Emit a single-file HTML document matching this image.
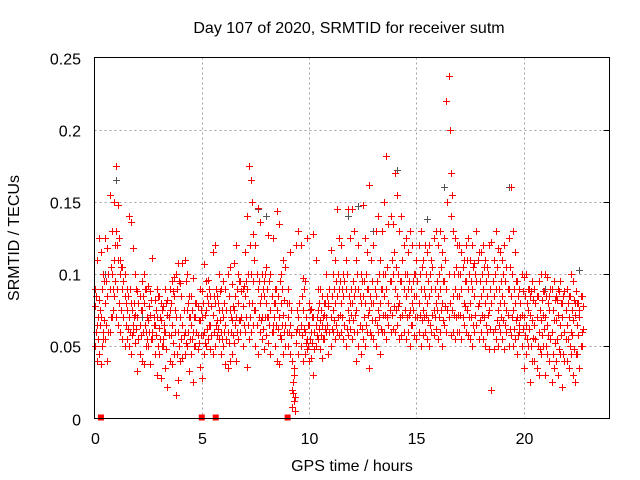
<!DOCTYPE html>
<html><head><meta charset="utf-8"><style>
html,body{margin:0;padding:0;background:#fff;}
svg{display:block;font-family:"Liberation Sans",sans-serif;}
</style></head><body>
<svg id="chart" width="640" height="480" viewBox="0 0 640 480" xmlns="http://www.w3.org/2000/svg">
<rect x="0" y="0" width="640" height="480" fill="#fff"/>
<text x="349" y="33" font-size="16" text-anchor="middle" fill="#000">Day 107 of 2020, SRMTID for receiver sutm</text>
<g id="grid"></g>
<g id="gray"></g>
<g id="red"></g>
<rect x="94.5" y="57.5" width="515" height="361" fill="none" stroke="#000" stroke-width="1"/>
<g id="ticks"></g>
<text x="352" y="471" font-size="16" text-anchor="middle" fill="#000">GPS time / hours</text>
<text transform="translate(19,238) rotate(-90)" font-size="16" text-anchor="middle" fill="#000">SRMTID / TECUs</text>
</svg>
<script>
const xTicks=[0,5,10,15,20];
const xTickLabels=["0","5","10","15","20"];
const yTicks=[0,0.05,0.1,0.15,0.2,0.25];
const yTickLabels=["0","0.05","0.1","0.15","0.2","0.25"];
const times=[0,0.1,0.2,0.3,0.4,0.5,0.6,0.7,0.8,0.9,1,1.1,1.2,1.3,1.4,1.5,1.6,1.7,1.8,1.9,2,2.1,2.2,2.3,2.4,2.5,2.6,2.7,2.8,2.9,3,3.1,3.2,3.3,3.4,3.5,3.6,3.7,3.8,3.9,4,4.1,4.2,4.3,4.4,4.5,4.6,4.7,4.8,4.9,5,5.1,5.2,5.3,5.4,5.5,5.6,5.7,5.8,5.9,6,6.1,6.2,6.3,6.4,6.5,6.6,6.7,6.8,6.9,7,7.1,7.2,7.3,7.4,7.5,7.6,7.7,7.8,7.9,8,8.1,8.2,8.3,8.4,8.5,8.6,8.7,8.8,8.9,9,9.1,9.2,9.3,9.4,9.5,9.6,9.7,9.8,9.9,10,10.1,10.2,10.3,10.4,10.5,10.6,10.7,10.8,10.9,11,11.1,11.2,11.3,11.4,11.5,11.6,11.7,11.8,11.9,12,12.1,12.2,12.3,12.4,12.5,12.6,12.7,12.8,12.9,13,13.1,13.2,13.3,13.4,13.5,13.6,13.7,13.8,13.9,14,14.1,14.2,14.3,14.4,14.5,14.6,14.7,14.8,14.9,15,15.1,15.2,15.3,15.4,15.5,15.6,15.7,15.8,15.9,16,16.1,16.2,16.3,16.4,16.5,16.6,16.7,16.8,16.9,17,17.1,17.2,17.3,17.4,17.5,17.6,17.7,17.8,17.9,18,18.1,18.2,18.3,18.4,18.5,18.6,18.7,18.8,18.9,19,19.1,19.2,19.3,19.4,19.5,19.6,19.7,19.8,19.9,20,20.1,20.2,20.3,20.4,20.5,20.6,20.7,20.8,20.9,21,21.1,21.2,21.3,21.4,21.5,21.6,21.7,21.8,21.9,22,22.1,22.2,22.3,22.4,22.5,22.6,22.7];
const timesB=[0.05,0.15,0.25,0.35,0.45,0.55,0.65,0.75,0.85,0.95,1.05,1.15,1.25,1.35,1.45,1.55,1.65,1.75,1.85,1.95,2.05,2.15,2.25,2.35,2.45,2.55,2.65,2.75,2.85,2.95,3.05,3.15,3.25,3.35,3.45,3.55,3.65,3.75,3.85,3.95,4.05,4.15,4.25,4.35,4.45,4.55,4.65,4.75,4.85,4.95,5.05,5.15,5.25,5.35,5.45,5.55,5.65,5.75,5.85,5.95,6.05,6.15,6.25,6.35,6.45,6.55,6.65,6.75,6.85,6.95,7.05,7.15,7.25,7.35,7.45,7.55,7.65,7.75,7.85,7.95,8.05,8.15,8.25,8.35,8.45,8.55,8.65,8.75,8.85,8.95,9.05,9.15,9.25,9.35,9.45,9.55,9.65,9.75,9.85,9.95,10.05,10.15,10.25,10.35,10.45,10.55,10.65,10.75,10.85,10.95,11.05,11.15,11.25,11.35,11.45,11.55,11.65,11.75,11.85,11.95,12.05,12.15,12.25,12.35,12.45,12.55,12.65,12.75,12.85,12.95,13.05,13.15,13.25,13.35,13.45,13.55,13.65,13.75,13.85,13.95,14.05,14.15,14.25,14.35,14.45,14.55,14.65,14.75,14.85,14.95,15.05,15.15,15.25,15.35,15.45,15.55,15.65,15.75,15.85,15.95,16.05,16.15,16.25,16.35,16.45,16.55,16.65,16.75,16.85,16.95,17.05,17.15,17.25,17.35,17.45,17.55,17.65,17.75,17.85,17.95,18.05,18.15,18.25,18.35,18.45,18.55,18.65,18.75,18.85,18.95,19.05,19.15,19.25,19.35,19.45,19.55,19.65,19.75,19.85,19.95,20.05,20.15,20.25,20.35,20.45,20.55,20.65,20.75,20.85,20.95,21.05,21.15,21.25,21.35,21.45,21.55,21.65,21.75,21.85,21.95,22.05,22.15,22.25,22.35,22.45,22.55,22.65,22.75];
const valuesMid=[.078,.065,.082,.07,.06,.08,.085,.09,.1,.11,.13,.11,.1,.09,.085,.075,.07,.08,.065,.072,.07,.065,.075,.08,.06,.068,.072,.06,.065,.07,.063,.068,.055,.06,.072,.075,.065,.085,.07,.06,.07,.065,.06,.075,.07,.065,.06,.07,.058,.068,.07,.06,.075,.08,.065,.072,.08,.068,.075,.06,.07,.065,.06,.075,.068,.075,.07,.08,.068,.078,.085,.09,.08,.1,.095,.075,.09,.08,.07,.085,.08,.07,.075,.065,.08,.075,.07,.08,.072,.065,.07,.065,.02,.03,.06,.07,.065,.075,.06,.055,.065,.06,.07,.065,.075,.068,.065,.072,.07,.08,.07,.075,.08,.085,.09,.08,.085,.09,.075,.08,.08,.085,.075,.09,.08,.085,.08,.09,.075,.08,.08,.085,.075,.08,.09,.085,.09,.08,.095,.1,.09,.085,.08,.095,.09,.085,.09,.075,.08,.085,.085,.08,.09,.075,.085,.08,.085,.09,.075,.08,.085,.09,.08,.095,.09,.1,.14,.085,.09,.085,.085,.09,.08,.095,.09,.08,.09,.085,.095,.08,.085,.09,.08,.085,.075,.08,.085,.09,.075,.08,.085,.08,.075,.09,.085,.075,.08,.07,.065,.072,.07,.065,.075,.072,.068,.065,.07,.06,.068,.072,.07,.065,.075,.06,.068,.068,.072,.065,.07,.06,.065,.07,.06,.068,.072,.065,.07,.06];
const valuesHigh=[.09,.11,.125,.115,.1,.125,.118,.155,.13,.15,.175,.148,.11,.105,.1,.09,.14,.136,.118,.1,.088,.085,.095,.1,.09,.092,.088,.111,.082,.09,.085,.08,.078,.09,.082,.09,.095,.098,.1,.108,.094,.108,.11,.1,.085,.085,.097,.08,.078,.09,.088,.107,.095,.096,.085,.115,.12,.085,.1,.09,.095,.09,.1,.105,.093,.108,.12,.1,.095,.09,.115,.14,.175,.165,.128,.12,.146,.136,.1,.095,.105,.127,.1,.125,.09,.144,.135,.1,.11,.105,.09,.115,.04,.035,.12,.13,.12,.097,.095,.125,.08,.076,.128,.11,.09,.09,.085,.08,.1,.078,.117,.1,.11,.145,.125,.12,.1,.11,.145,.125,.145,.13,.11,.12,.1,.148,.125,.115,.162,.11,.12,.13,.14,.11,.13,.15,.182,.135,.14,.135,.17,.155,.13,.14,.12,.125,.115,.13,.12,.1,.11,.12,.13,.11,.12,.115,.12,.11,.125,.13,.12,.13,.115,.125,.22,.237,.17,.13,.125,.12,.12,.115,.11,.12,.125,.11,.12,.108,.13,.115,.115,.12,.11,.105,.12,.122,.11,.13,.118,.115,.11,.12,.105,.125,.16,.13,.115,.095,.09,.1,.098,.1,.09,.085,.095,.09,.085,.095,.1,.088,.1,.098,.085,.09,.095,.085,.09,.095,.08,.088,.09,.085,.1,.095,.08,.08,.075,.085];
const valuesLow=[.05,.04,.045,.038,.055,.055,.04,.06,.07,.085,.07,.065,.06,.055,.05,.055,.05,.045,.06,.052,.033,.045,.04,.038,.05,.05,.038,.055,.045,.03,.045,.028,.05,.035,.022,.04,.038,.045,.016,.027,.04,.042,.045,.05,.033,.045,.025,.05,.048,.036,.028,.045,.05,.055,.048,.045,.05,.058,.055,.045,.05,.038,.035,.04,.045,.052,.04,.055,.06,.05,.06,.036,.055,.06,.065,.05,.045,.06,.055,.048,.058,.052,.045,.06,.05,.04,.038,.055,.045,.05,.05,.045,.008,.012,.052,.045,.05,.04,.045,.048,.04,.042,.03,.05,.055,.048,.042,.055,.06,.045,.05,.06,.055,.06,.058,.06,.055,.05,.058,.062,.055,.06,.04,.05,.045,.055,.05,.06,.035,.058,.055,.05,.06,.045,.06,.06,.055,.065,.06,.062,.06,.065,.055,.058,.06,.055,.06,.05,.065,.058,.055,.06,.05,.058,.06,.055,.05,.06,.058,.062,.055,.06,.05,.065,.06,.07,.058,.06,.055,.06,.06,.055,.065,.06,.058,.055,.05,.06,.065,.055,.06,.055,.05,.06,.048,.02,.048,.055,.05,.06,.055,.048,.06,.05,.058,.05,.055,.045,.06,.05,.035,.045,.05,.025,.04,.04,.035,.03,.045,.05,.03,.045,.04,.025,.035,.04,.03,.045,.022,.04,.04,.035,.045,.03,.025,.045,.035,.05];
const valuesMid2=[.085,.07,.075,.09,.095,.095,.1,.105,.09,.12,.12,.125,.105,.095,.08,.085,.09,.075,.08,.09,.08,.075,.085,.09,.07,.078,.082,.07,.075,.085,.07,.075,.065,.08,.07,.08,.088,.075,.09,.095,.085,.075,.095,.08,.07,.075,.07,.08,.068,.075,.08,.072,.085,.09,.078,.085,.09,.08,.088,.075,.08,.075,.085,.07,.078,.085,.09,.095,.088,.092,.095,.1,.12,.15,.11,.1,.095,.085,.09,.1,.09,.095,.085,.08,.09,.085,.095,.09,.082,.08,.08,.075,.025,.015,.075,.08,.085,.09,.07,.065,.075,.07,.06,.07,.08,.075,.07,.08,.085,.09,.085,.09,.095,.1,.095,.09,.095,.1,.085,.09,.095,.09,.1,.085,.095,.095,.1,.09,.085,.095,.09,.095,.1,.09,.1,.1,.105,.095,.11,.115,.105,.1,.095,.11,.1,.1,.095,.09,.095,.1,.095,.1,.105,.09,.1,.095,.1,.105,.09,.095,.1,.105,.095,.11,.15,.2,.155,.1,.105,.1,.1,.105,.095,.11,.1,.095,.105,.1,.11,.095,.1,.105,.095,.1,.09,.095,.1,.105,.09,.095,.1,.095,.09,.105,.1,.09,.095,.085,.08,.088,.085,.08,.09,.088,.082,.08,.085,.075,.082,.088,.085,.08,.09,.075,.082,.082,.088,.08,.085,.075,.08,.085,.075,.082,.088,.08,.085,.078];
const valuesLow2=[.06,.055,.065,.05,.068,.065,.06,.07,.075,.095,.09,.08,.075,.07,.065,.062,.06,.058,.07,.062,.055,.058,.06,.065,.055,.06,.055,.065,.058,.05,.055,.05,.06,.048,.058,.058,.052,.06,.045,.05,.055,.058,.052,.06,.055,.055,.05,.06,.052,.058,.058,.052,.062,.065,.058,.06,.065,.062,.068,.055,.06,.055,.052,.06,.058,.065,.06,.068,.07,.065,.07,.065,.07,.08,.075,.065,.07,.068,.062,.07,.07,.065,.06,.07,.065,.062,.058,.065,.06,.06,.06,.058,.018,.005,.062,.06,.058,.062,.052,.05,.055,.052,.048,.058,.062,.058,.055,.062,.065,.06,.062,.068,.065,.07,.072,.07,.065,.062,.068,.072,.068,.072,.06,.065,.062,.07,.065,.072,.06,.068,.068,.065,.07,.062,.072,.072,.07,.075,.072,.078,.075,.078,.07,.072,.075,.07,.072,.065,.075,.07,.07,.072,.068,.07,.072,.068,.065,.072,.07,.075,.07,.075,.068,.078,.075,.08,.075,.072,.07,.072,.072,.07,.078,.075,.07,.07,.065,.072,.078,.068,.072,.07,.065,.072,.062,.06,.062,.068,.065,.07,.068,.065,.072,.062,.07,.062,.068,.058,.07,.062,.058,.055,.062,.05,.056,.055,.05,.048,.058,.062,.05,.058,.055,.045,.052,.055,.048,.058,.045,.055,.055,.05,.058,.048,.045,.058,.05,.062];
const grayTimes=[0.5,1.0,2.2,4.3,7.6,8.0,11.8,12.3,13.0,14.1,15.5,16.3,17.2,19.3,21.0,22.6];
const grayValues=[.1,.165,.07,.05,.145,.14,.14,.147,.13,.172,.138,.16,.11,.16,.09,.103];
const zeroTimes=[0.3,5.0,5.65,9.0];
const zeroValues=[0,0,0,0];

const NS="http://www.w3.org/2000/svg";
const X0=94.5,X1=609.5,Y0=418.5,Y1=57.5,XMAX=24,YMAX=0.25;
function xs(t){return X0+(t/XMAX)*(X1-X0);}
function ys(v){return Y0-(v/YMAX)*(Y0-Y1);}
function mk(tag,attrs,parent){const e=document.createElementNS(NS,tag);for(const k in attrs)e.setAttribute(k,attrs[k]);parent.appendChild(e);return e;}
const grid=document.getElementById('grid'),ticks=document.getElementById('ticks');
xTicks.forEach((t,i)=>{
  const x=Math.round(xs(t))+0.5;
  if(t>0){const g=mk('line',{x1:x,y1:Y1,x2:x,y2:Y0,stroke:'#a0a0a0','stroke-dasharray':'2,3'},grid);
  
  }
  const l=mk('text',{x:x,y:444,'font-size':'16','text-anchor':'middle',fill:'#000'},ticks);
  l.textContent=xTickLabels[i];
  
  
});
yTicks.forEach((v,i)=>{
  const y=Math.round(ys(v))+0.5;
  if(v>0&&v<YMAX){const g=mk('line',{x1:X0,y1:y,x2:X1,y2:y,stroke:'#a0a0a0','stroke-dasharray':'2,3'},grid);
  
  
  const tk=mk('line',{x1:X1-6,y1:y,x2:X1,y2:y,stroke:'#000'},ticks);
  
  }
  const l=mk('text',{x:81,y:y+6,'font-size':'16','text-anchor':'end',fill:'#000'},ticks);
  l.textContent=yTickLabels[i];
  
  
});
function plus(g,t,v,color,name){
  const x=Math.round(xs(t))+0.5,y=Math.round(ys(v))+0.5;
  const p=mk('path',{d:`M${x-3.5},${y}H${x+3.5}M${x},${y-3.5}V${y+3.5}`,stroke:color,'stroke-width':'1',fill:'none'},g);
  
  
}
const gg=document.getElementById('gray'),rg=document.getElementById('red');
grayTimes.forEach((t,i)=>plus(gg,t,grayValues[i],'#555','gray-point'));
times.forEach((t,i)=>{
  plus(rg,t,valuesMid[i],'#ff0000','red-point');
  plus(rg,t,valuesHigh[i],'#ff0000','red-point');
  plus(rg,t,valuesLow[i],'#ff0000','red-point');
});
timesB.forEach((t,i)=>{
  plus(rg,t,valuesMid2[i],'#ff0000','red-point');
  plus(rg,t,valuesLow2[i],'#ff0000','red-point');
});
zeroTimes.forEach((t,i)=>{
  const r=mk('rect',{x:xs(t)-3,y:ys(zeroValues[i])-4,width:6,height:6,fill:'#ff0000'},rg);
  
  
});
</script>
</body></html>
